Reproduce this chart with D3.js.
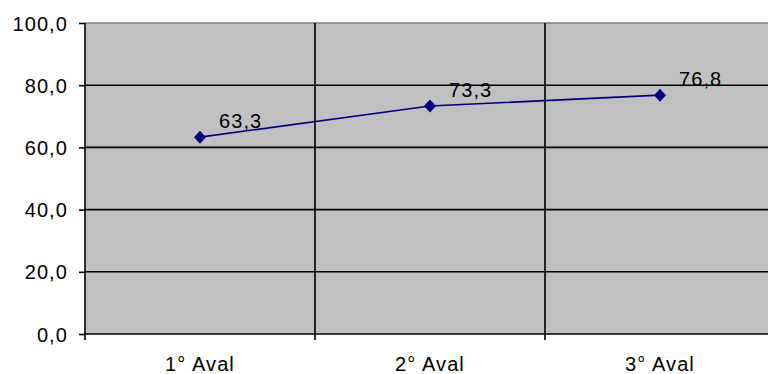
<!DOCTYPE html>
<html><head><meta charset="utf-8">
<script src="https://cdn.jsdelivr.net/npm/d3@7"></script>
<style>html,body{margin:0;padding:0;background:#fff;overflow:hidden}svg{display:block}text{font-family:"Liberation Sans",Arial,sans-serif;fill:#000;letter-spacing:1.1px}</style>
</head><body><svg id="c" width="768" height="374"></svg>
<script>
const categories = ["1° Aval", "2° Aval", "3° Aval"];
const values = [63.3, 73.3, 76.8];
const valueLabels = ["63,3", "73,3", "76,8"];
const yTicks = [0, 20, 40, 60, 80, 100];
const yTickLabels = ["0,0", "20,0", "40,0", "60,0", "80,0", "100,0"];

const svg = d3.select("#c");
const pL = 85, pR = 775, pT = 23, pB = 334;
const FS = 20;
const x = d3.scaleBand().domain(categories).range([pL, pR]).padding(0);
const y = d3.scaleLinear().domain([0, 100]).range([pB, pT]);

svg.append("rect").attr("x", pL).attr("y", pT).attr("width", pR - pL).attr("height", pB - pT).attr("fill", "#c0c0c0");
svg.append("line").attr("x1", pL).attr("x2", pR).attr("y1", pT).attr("y2", pT).attr("stroke", "#808080").attr("stroke-width", 1.5);

// horizontal gridlines
svg.append("g").selectAll("line").data(yTicks.filter(d => d > 0 && d < 100)).join("line")
  .attr("x1", pL).attr("x2", pR).attr("y1", d => y(d)).attr("y2", d => y(d))
  .attr("stroke", "#000").attr("stroke-width", 1.6);
// vertical gridlines at category boundaries
const bounds = categories.slice(1).map(c => x(c));
svg.append("g").selectAll("line").data(bounds).join("line")
  .attr("x1", d => d).attr("x2", d => d).attr("y1", pT).attr("y2", pB + 6)
  .attr("stroke", "#000").attr("stroke-width", 1.6);

// axes
const yAxis = d3.axisLeft(y).tickValues(yTicks).tickFormat((d, i) => yTickLabels[i]).tickSize(6).tickPadding(11);
const gy = svg.append("g").attr("transform", `translate(${pL},0)`).call(yAxis);
gy.select(".domain").attr("stroke", "#000").attr("stroke-width", 1.6).attr("d", `M0,${pT}V${pB + 6}`);
gy.selectAll(".tick line").attr("stroke", "#000").attr("stroke-width", 1.6);
gy.selectAll(".tick text").attr("font-size", FS).attr("fill", "#000").attr("dy", "0.35em").style("font-family", '"Liberation Sans",Arial,sans-serif');

svg.append("line").attr("x1", pL).attr("x2", pR).attr("y1", pB).attr("y2", pB).attr("stroke", "#000").attr("stroke-width", 1.6);

svg.append("g").selectAll("text").data(categories).join("text")
  .attr("x", d => x(d) + x.bandwidth() / 2).attr("y", 371)
  .attr("text-anchor", "middle").attr("font-size", FS).text(d => d);

// series
const cx = d => x(d) + x.bandwidth() / 2;
const line = d3.line().x((d, i) => cx(categories[i])).y(d => y(d));
svg.append("path").datum(values).attr("d", line).attr("fill", "none").attr("stroke", "#000080").attr("stroke-width", 1.6);
svg.append("g").selectAll("path").data(values).join("path")
  .attr("transform", (d, i) => `translate(${cx(categories[i])},${y(d)})`)
  .attr("d", "M0,-6.5L6,0L0,6.5L-6,0Z").attr("fill", "#000080");
svg.append("g").selectAll("text").data(values).join("text")
  .attr("x", (d, i) => cx(categories[i]) + 19).attr("y", d => y(d) - 9)
  .attr("font-size", FS).text((d, i) => valueLabels[i]);
</script></body></html>
